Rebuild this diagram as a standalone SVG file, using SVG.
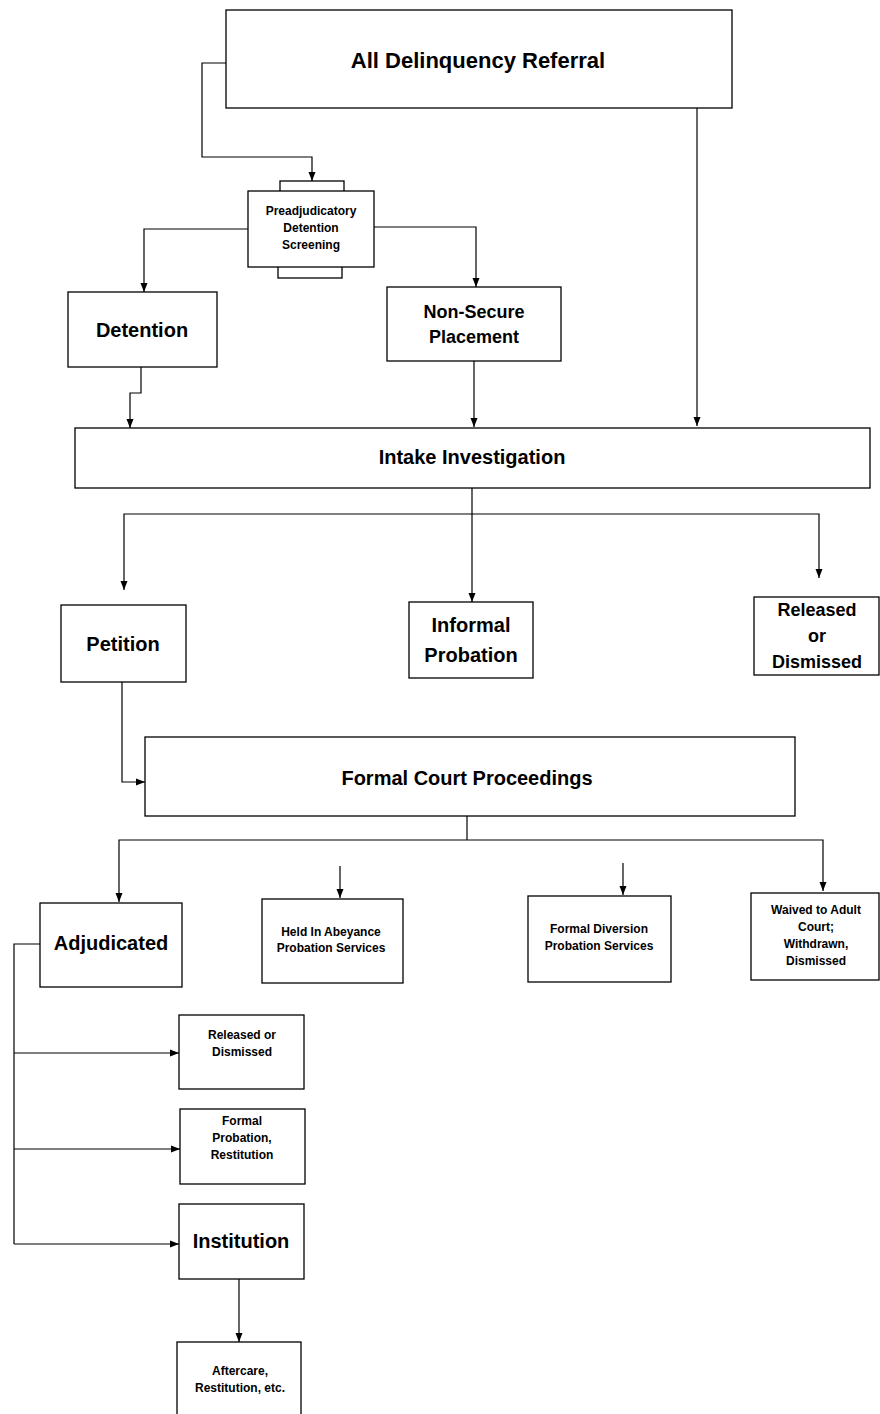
<svg xmlns="http://www.w3.org/2000/svg" width="880" height="1414" viewBox="0 0 880 1414">
<defs>
<marker id="ah" markerWidth="10" markerHeight="10" refX="9" refY="5" orient="auto" markerUnits="userSpaceOnUse">
<path d="M0,1.5 L9,5 L0,8.5 Z" fill="#000"/>
</marker>
<style>
rect{fill:#fff;stroke:#000;stroke-width:1.3}
.c{fill:none;stroke:#000;stroke-width:1.2}
.a{marker-end:url(#ah)}
text{font-family:"Liberation Sans",Arial,sans-serif;font-weight:bold;text-anchor:middle;fill:#000}
.xl{font-size:22px}
.l{font-size:20px}
.m{font-size:18px}
.s{font-size:12px}
</style>
</defs>
<rect x="0" y="0" width="880" height="1414" style="fill:#fff;stroke:none"/>
<g id="connectors">
<path class="c a" d="M226,63 H202 V157 H312 V181"/>
<path class="c a" d="M248,229 H144 V292"/>
<path class="c a" d="M374,227 H476 V287"/>
<path class="c a" d="M697,107 V426"/>
<path class="c a" d="M141,367 V393 H130 V428"/>
<path class="c a" d="M474,361 V427"/>
<path class="c" d="M472,488 V512"/>
<path class="c a" d="M472,514 H124 V590"/>
<path class="c a" d="M472,514 H819 V578"/>
<path class="c a" d="M472,512 V602"/>
<path class="c a" d="M122,682 V782 H145"/>
<path class="c" d="M467,816 V840"/>
<path class="c a" d="M467,840 H119 V902"/>
<path class="c a" d="M467,840 H823 V891"/>
<path class="c a" d="M340,866 V898"/>
<path class="c a" d="M623,863 V895"/>
<path class="c" d="M40,944 H14 V1244"/>
<path class="c a" d="M14,1053 H179"/>
<path class="c a" d="M14,1149 H180"/>
<path class="c a" d="M14,1244 H179"/>
<path class="c a" d="M239,1279 V1342"/>
</g>
<g id="referral">
<rect x="226" y="10" width="506" height="98"/>
<text class="xl" x="478" y="68">All Delinquency Referral</text>
</g>
<g id="screening">
<rect x="280" y="181" width="64" height="14"/>
<rect x="278" y="264" width="64" height="14"/>
<rect x="248" y="191" width="126" height="76"/>
<text class="s" x="311" y="215">Preadjudicatory</text>
<text class="s" x="311" y="232">Detention</text>
<text class="s" x="311" y="249">Screening</text>
</g>
<g id="detention">
<rect x="68" y="292" width="149" height="75"/>
<text class="l" x="142" y="337">Detention</text>
</g>
<g id="nonsecure">
<rect x="387" y="287" width="174" height="74"/>
<text class="m" x="474" y="318">Non-Secure</text>
<text class="m" x="474" y="343">Placement</text>
</g>
<g id="intake">
<rect x="75" y="428" width="795" height="60"/>
<text class="l" x="472" y="464">Intake Investigation</text>
</g>
<g id="petition">
<rect x="61" y="605" width="125" height="77"/>
<text class="l" x="123" y="651">Petition</text>
</g>
<g id="informal">
<rect x="409" y="602" width="124" height="76"/>
<text class="l" x="471" y="632">Informal</text>
<text class="l" x="471" y="662">Probation</text>
</g>
<g id="released1">
<rect x="754" y="597" width="125" height="78"/>
<text class="m" x="817" y="616">Released</text>
<text class="m" x="817" y="642">or</text>
<text class="m" x="817" y="668">Dismissed</text>
</g>
<g id="court">
<rect x="145" y="737" width="650" height="79"/>
<text class="l" x="467" y="785">Formal Court Proceedings</text>
</g>
<g id="adjudicated">
<rect x="40" y="903" width="142" height="84"/>
<text class="l" x="111" y="950">Adjudicated</text>
</g>
<g id="abeyance">
<rect x="262" y="899" width="141" height="84"/>
<text class="s" x="331" y="936">Held In Abeyance</text>
<text class="s" x="331" y="952">Probation Services</text>
</g>
<g id="diversion">
<rect x="528" y="896" width="143" height="86"/>
<text class="s" x="599" y="933">Formal Diversion</text>
<text class="s" x="599" y="950">Probation Services</text>
</g>
<g id="waived">
<rect x="751" y="893" width="128" height="87"/>
<text class="s" x="816" y="914">Waived to Adult</text>
<text class="s" x="816" y="931">Court;</text>
<text class="s" x="816" y="948">Withdrawn,</text>
<text class="s" x="816" y="965">Dismissed</text>
</g>
<g id="released2">
<rect x="179" y="1015" width="125" height="74"/>
<text class="s" x="242" y="1039">Released or</text>
<text class="s" x="242" y="1056">Dismissed</text>
</g>
<g id="formalprob">
<rect x="180" y="1109" width="125" height="75"/>
<text class="s" x="242" y="1125">Formal</text>
<text class="s" x="242" y="1142">Probation,</text>
<text class="s" x="242" y="1159">Restitution</text>
</g>
<g id="institution">
<rect x="179" y="1204" width="125" height="75"/>
<text class="l" x="241" y="1248">Institution</text>
</g>
<g id="aftercare">
<rect x="177" y="1342" width="124" height="80"/>
<text class="s" x="240" y="1375">Aftercare,</text>
<text class="s" x="240" y="1392">Restitution, etc.</text>
</g>
</svg>
